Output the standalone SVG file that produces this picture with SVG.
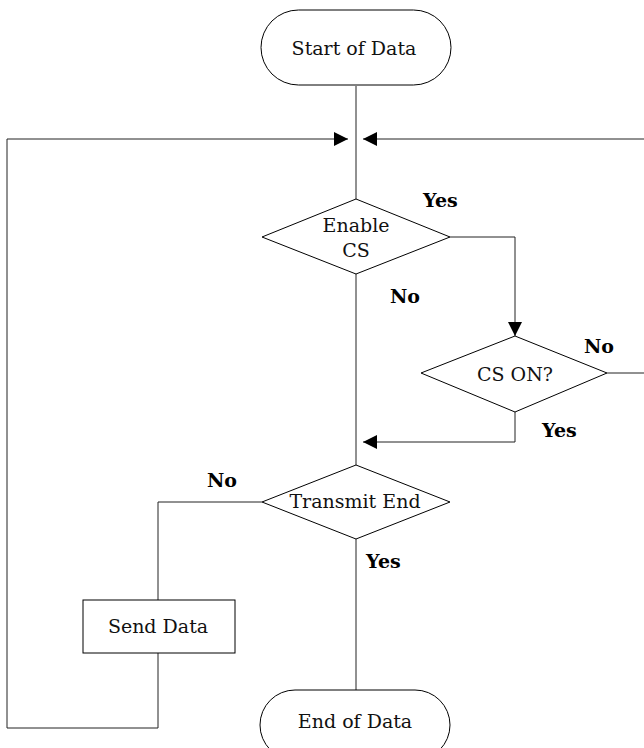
<svg xmlns="http://www.w3.org/2000/svg" width="644" height="748" viewBox="0 0 644 748">
<defs>
<marker id="arr" markerUnits="userSpaceOnUse" markerWidth="16" markerHeight="14" refX="14" refY="7" orient="auto">
<path d="M0,0 L14,7 L0,14 Z" fill="#000"/>
</marker>
<style>
.shape{fill:#fff;stroke:#000;stroke-width:1}
.conn{fill:none;stroke:#222;stroke-width:1}
.t{font-family:"DejaVu Serif","Liberation Serif",serif;font-size:19px;fill:#111;text-anchor:middle}
.lbl{font-family:"DejaVu Serif","Liberation Serif",serif;font-size:19px;font-weight:bold;fill:#000}
</style>
</defs>
<rect width="644" height="748" fill="#fff"/>
<g id="connectors">
<path class="conn" d="M356,86 V199"/>
<path class="conn" d="M158,653 V728 H7 V139 H348" marker-end="url(#arr)"/>
<path class="conn" d="M607,373 H660 V139 H363" marker-end="url(#arr)"/>
<path class="conn" d="M450,237 H515 V336" marker-end="url(#arr)"/>
<path class="conn" d="M515,412 V442 H363" marker-end="url(#arr)"/>
<path class="conn" d="M356,274 V465"/>
<path class="conn" d="M262,502 H158 V600"/>
<path class="conn" d="M356,539 V690"/>
</g>
<g id="start">
<rect class="shape" x="261" y="10" width="190" height="75" rx="37.5" ry="37.5"/>
<text class="t" x="354" y="55">Start of Data</text>
</g>
<g id="enable-cs">
<polygon class="shape" points="356,199 450,237 356,274 262,237"/>
<text class="t" x="356" y="232">Enable</text>
<text class="t" x="356" y="257">CS</text>
</g>
<g id="cs-on">
<polygon class="shape" points="515,336 607,373 515,412 421,373"/>
<text class="t" x="515" y="381">CS ON?</text>
</g>
<g id="transmit-end">
<polygon class="shape" points="356,465 450,502 356,539 262,502"/>
<text class="t" x="355" y="508">Transmit End</text>
</g>
<g id="send-data">
<rect class="shape" x="83" y="600" width="152" height="53"/>
<text class="t" x="158" y="633">Send Data</text>
</g>
<g id="end">
<rect class="shape" x="260" y="690" width="190" height="70" rx="35" ry="35"/>
<text class="t" x="355" y="728">End of Data</text>
</g>
<g id="labels">
<text class="lbl" x="423" y="207">Yes</text>
<text class="lbl" x="390" y="303">No</text>
<text class="lbl" x="584" y="353">No</text>
<text class="lbl" x="542" y="437">Yes</text>
<text class="lbl" x="207" y="487">No</text>
<text class="lbl" x="366" y="568">Yes</text>
</g>
</svg>
